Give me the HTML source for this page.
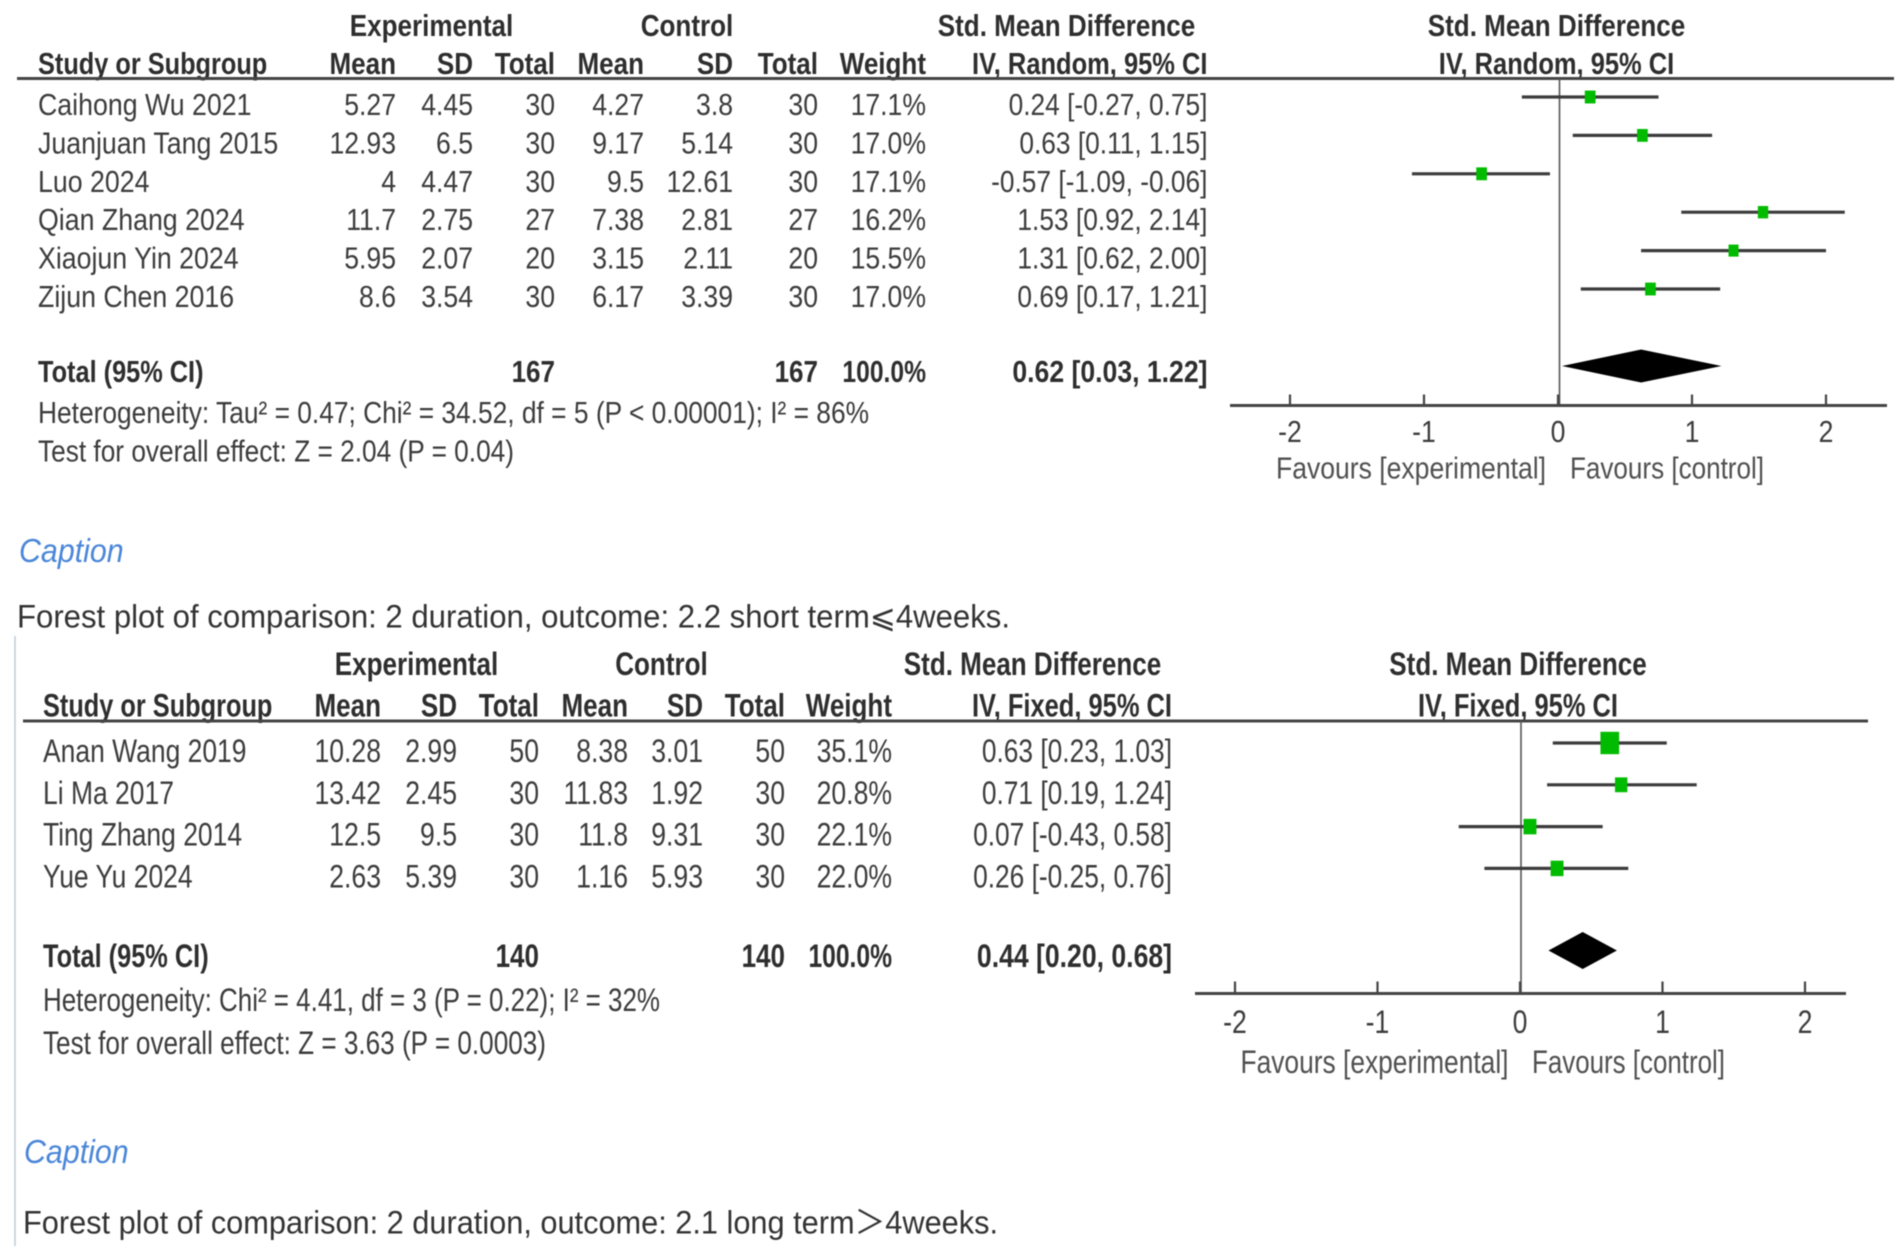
<!DOCTYPE html>
<html lang="en">
<head>
<meta charset="utf-8">
<title>Forest plots of comparison: duration</title>
<style>
  html, body { margin: 0; padding: 0; background: #fff; }
  #stage { display: block; width: 1902px; height: 1256px; filter: blur(0.6px); }
  text { font-family: "Liberation Sans", "DejaVu Sans", "Noto Sans CJK SC", sans-serif; }
</style>
</head>
<body>
<svg id="stage" xmlns="http://www.w3.org/2000/svg" width="1902" height="1256" viewBox="0 0 1902 1256"></svg>
<script>
// ---------- Panel 1 data: short term ----------
const studies1 = ['Caihong Wu 2021', 'Juanjuan Tang 2015', 'Luo 2024', 'Qian Zhang 2024', 'Xiaojun Yin 2024', 'Zijun Chen 2016'];
const expMean1 = [5.27, 12.93, 4, 11.7, 5.95, 8.6];
const expSd1 = [4.45, 6.5, 4.47, 2.75, 2.07, 3.54];
const expTotal1 = [30, 30, 30, 27, 20, 30];
const ctlMean1 = [4.27, 9.17, 9.5, 7.38, 3.15, 6.17];
const ctlSd1 = [3.8, 5.14, 12.61, 2.81, 2.11, 3.39];
const ctlTotal1 = [30, 30, 30, 27, 20, 30];
const weight1 = [17.1, 17.0, 17.1, 16.2, 15.5, 17.0];
const smd1 = [0.24, 0.63, -0.57, 1.53, 1.31, 0.69];
const ciLow1 = [-0.27, 0.11, -1.09, 0.92, 0.62, 0.17];
const ciHigh1 = [0.75, 1.15, -0.06, 2.14, 2.00, 1.21];
const pooled1 = [0.62, 0.03, 1.22];
const totals1 = [167, 167];

// ---------- Panel 2 data: long term ----------
const studies2 = ['Anan Wang 2019', 'Li Ma 2017', 'Ting Zhang 2014', 'Yue Yu 2024'];
const expMean2 = [10.28, 13.42, 12.5, 2.63];
const expSd2 = [2.99, 2.45, 9.5, 5.39];
const expTotal2 = [50, 30, 30, 30];
const ctlMean2 = [8.38, 11.83, 11.8, 1.16];
const ctlSd2 = [3.01, 1.92, 9.31, 5.93];
const ctlTotal2 = [50, 30, 30, 30];
const weight2 = [35.1, 20.8, 22.1, 22.0];
const smd2 = [0.63, 0.71, 0.07, 0.26];
const ciLow2 = [0.23, 0.19, -0.43, -0.25];
const ciHigh2 = [1.03, 1.24, 0.58, 0.76];
const pooled2 = [0.44, 0.20, 0.68];
const totals2 = [140, 140];

const axisTicks = [-2, -1, 0, 1, 2];

const svg = document.getElementById('stage');
const NS = 'http://www.w3.org/2000/svg';

function mk(tag, name, attrs, parent) {
  const el = document.createElementNS(NS, tag);
  
  
  for (const k in attrs) el.setAttribute(k, attrs[k]);
  (parent || svg).appendChild(el);
  return el;
}

function label(parent, name, x, y, str, o) {
  o = o || {};
  const sx = o.len ? 1 : (o.sx || (o.bold ? 0.93 : 0.95));
  const sy = o.sy || 1;
  const attrs = {
    transform: 'translate(' + x + ',' + y + ') scale(' + sx + ',' + sy + ')',
    'font-size': o.size || 28,
    fill: o.fill || (o.bold ? '#2e2e2e' : '#3c3c3c'),
    'text-anchor': o.anchor || 'start'
  };
  if (o.bold) attrs['font-weight'] = 'bold';
  if (o.italic) attrs['font-style'] = 'italic';
  if (o.len) { attrs.textLength = o.len; attrs.lengthAdjust = 'spacingAndGlyphs'; }
  const el = mk('text', name, attrs, parent);
  el.textContent = str;
  return el;
}

function drawPanel(d, L) {
  const g = mk('g', L.name, {});
  const xScale = v => L.zeroX + v * L.unit;
  const rowY = i => L.firstRowY + i * L.rowStep;
  const textOpts = (extra) => Object.assign({ sy: L.sy }, extra);
  const bl = 10 * L.sy - 1;

  // Headers
  const h = (name, x, y, s, anchor, sx) => label(g, name, x, y + bl, s, textOpts({ bold: true, anchor: anchor, sx: sx }));
  h('experimental-header', L.cols.expCenter, L.head1Y, 'Experimental', 'middle');
  h('control-header', L.cols.ctlCenter, L.head1Y, 'Control', 'middle');
  h('effect-column-header', L.cols.effCenter, L.head1Y, 'Std. Mean Difference', 'middle');
  h('plot-header', L.cols.plotCenter, L.head1Y, 'Std. Mean Difference', 'middle');
  h('study-column-header', L.textX, L.head2Y, 'Study or Subgroup', 'start', 0.905);
  h('exp-mean-header', L.cols.expMean, L.head2Y, 'Mean', 'end');
  h('exp-sd-header', L.cols.expSd, L.head2Y, 'SD', 'end');
  h('exp-total-header', L.cols.expTotal, L.head2Y, 'Total', 'end');
  h('ctl-mean-header', L.cols.ctlMean, L.head2Y, 'Mean', 'end');
  h('ctl-sd-header', L.cols.ctlSd, L.head2Y, 'SD', 'end');
  h('ctl-total-header', L.cols.ctlTotal, L.head2Y, 'Total', 'end');
  h('weight-header', L.cols.weight, L.head2Y, 'Weight', 'end');
  h('effect-method-header', L.cols.ci, L.head2Y, L.method, 'end', 0.91);
  h('plot-method-header', L.cols.plotCenter, L.head2Y, L.method, 'middle', 0.91);

  mk('line', 'header-rule', { x1: L.ruleX1, x2: L.ruleX2, y1: L.ruleY, y2: L.ruleY, stroke: '#444', 'stroke-width': 3 }, g);

  // Table rows
  d.studies.forEach((s, i) => {
    const y = rowY(i) + bl;
    const c = L.cols;
    const row = mk('g', 'study-row', {}, g);
    label(row, 'study-name', L.textX, y, s, textOpts({ sx: L.nameSx }));
    label(row, 'exp-mean', c.expMean, y, String(d.expMean[i]), textOpts({ anchor: 'end' }));
    label(row, 'exp-sd', c.expSd, y, String(d.expSd[i]), textOpts({ anchor: 'end' }));
    label(row, 'exp-total', c.expTotal, y, String(d.expTotal[i]), textOpts({ anchor: 'end' }));
    label(row, 'ctl-mean', c.ctlMean, y, String(d.ctlMean[i]), textOpts({ anchor: 'end' }));
    label(row, 'ctl-sd', c.ctlSd, y, String(d.ctlSd[i]), textOpts({ anchor: 'end' }));
    label(row, 'ctl-total', c.ctlTotal, y, String(d.ctlTotal[i]), textOpts({ anchor: 'end' }));
    label(row, 'weight-value', c.weight, y, d.weight[i].toFixed(1) + '%', textOpts({ anchor: 'end' }));
    label(row, 'effect-value', c.ci, y, d.smd[i].toFixed(2) + ' [' + d.lo[i].toFixed(2) + ', ' + d.hi[i].toFixed(2) + ']', textOpts({ anchor: 'end', sx: 0.94 }));
  });

  // Totals
  const ty = L.totalY + bl;
  label(g, 'total-label', L.textX, ty, 'Total (95% CI)', textOpts({ bold: true, sx: 0.905 }));
  label(g, 'exp-grand-total', L.cols.expTotal, ty, String(d.totals[0]), textOpts({ bold: true, anchor: 'end' }));
  label(g, 'ctl-grand-total', L.cols.ctlTotal, ty, String(d.totals[1]), textOpts({ bold: true, anchor: 'end' }));
  label(g, 'total-weight', L.cols.weight, ty, '100.0%', textOpts({ bold: true, anchor: 'end', sx: 0.88 }));
  label(g, 'pooled-effect', L.cols.ci, ty, d.pooled[0].toFixed(2) + ' [' + d.pooled[1].toFixed(2) + ', ' + d.pooled[2].toFixed(2) + ']', textOpts({ bold: true, anchor: 'end', sx: 0.95 }));
  label(g, 'heterogeneity-note', L.textX, L.hetY + bl, L.hetText, textOpts({ len: L.hetLen }));
  label(g, 'overall-effect-note', L.textX, L.testY + bl, L.testText, textOpts({ len: L.testLen }));

  // Reference line
  mk('line', 'zero-line', { x1: xScale(0) + L.zeroLineShift, x2: xScale(0) + L.zeroLineShift, y1: L.ruleY, y2: L.axisY, stroke: '#555', 'stroke-width': 1.6 }, g);

  // Study marks
  d.smd.forEach((v, i) => {
    const y = rowY(i) - L.markUp;
    mk('line', 'ci-line', { x1: xScale(d.lo[i]), x2: xScale(d.hi[i]), y1: y, y2: y, stroke: '#3c3c3c', 'stroke-width': 3.2 }, g);
    const w = 0.44 * d.weight[i] + 3.2;
    const ht = w * 1.2;
    mk('rect', 'effect-square', { x: xScale(v) - w / 2, y: y - ht / 2, width: w, height: ht, fill: '#00bb00' }, g);
  });

  // Pooled diamond
  const dy = L.diamondY, dh = L.diamondH;
  mk('polygon', 'pooled-diamond', {
    points: [[xScale(d.pooled[1]), dy], [xScale(d.pooled[0]), dy - dh], [xScale(d.pooled[2]), dy], [xScale(d.pooled[0]), dy + dh]].map(p => p.join(',')).join(' '),
    fill: '#000'
  }, g);

  // Axis
  mk('line', 'x-axis', { x1: L.axisX1, x2: L.axisX2, y1: L.axisY, y2: L.axisY, stroke: '#444', 'stroke-width': 3 }, g);
  axisTicks.forEach(t => {
    mk('line', 'x-axis-tick', { x1: xScale(t), x2: xScale(t), y1: L.axisY - L.tickLen, y2: L.axisY, stroke: '#444', 'stroke-width': 2.2 }, g);
    label(g, 'x-axis-tick-label', xScale(t), L.tickLabelY + bl, String(t), textOpts({ anchor: 'middle' }));
  });
  label(g, 'favours-experimental', L.favExpX, L.favY + bl, 'Favours [experimental]', textOpts({ len: L.favExpLen, fill: '#505050' }));
  label(g, 'favours-control', L.favCtlX, L.favY + bl, 'Favours [control]', textOpts({ len: L.favCtlLen, fill: '#505050' }));
}

drawPanel(
  { studies: studies1, expMean: expMean1, expSd: expSd1, expTotal: expTotal1, ctlMean: ctlMean1, ctlSd: ctlSd1, ctlTotal: ctlTotal1, weight: weight1, smd: smd1, lo: ciLow1, hi: ciHigh1, pooled: pooled1, totals: totals1 },
  {
    name: 'forest-plot-short-term', method: 'IV, Random, 95% CI', sy: 1.08, nameSx: 0.955,
    textX: 38, head1Y: 26, head2Y: 64, ruleY: 78.5, ruleX1: 17, ruleX2: 1894,
    firstRowY: 105.2, rowStep: 38.4, totalY: 372, hetY: 413, testY: 451.5,
    hetText: 'Heterogeneity: Tau² = 0.47; Chi² = 34.52, df = 5 (P < 0.00001); I² = 86%', hetLen: 831,
    testText: 'Test for overall effect: Z = 2.04 (P = 0.04)', testLen: 476,
    cols: { expCenter: 431.5, ctlCenter: 687, effCenter: 1066.5, plotCenter: 1556.5, expMean: 396, expSd: 473, expTotal: 555, ctlMean: 644, ctlSd: 733, ctlTotal: 818, weight: 926, ci: 1207.5 },
    zeroX: 1558, unit: 134, zeroLineShift: 1.5, markUp: 8.2, diamondY: 366, diamondH: 16.5,
    axisY: 405.5, axisX1: 1230, axisX2: 1887, tickLen: 11, tickLabelY: 432,
    favY: 468.5, favExpX: 1276, favExpLen: 270, favCtlX: 1570, favCtlLen: 194
  }
);

drawPanel(
  { studies: studies2, expMean: expMean2, expSd: expSd2, expTotal: expTotal2, ctlMean: ctlMean2, ctlSd: ctlSd2, ctlTotal: ctlTotal2, weight: weight2, smd: smd2, lo: ciLow2, hi: ciHigh2, pooled: pooled2, totals: totals2 },
  {
    name: 'forest-plot-long-term', method: 'IV, Fixed, 95% CI', sy: 1.15, nameSx: 0.945,
    textX: 43, head1Y: 664.5, head2Y: 706, ruleY: 721, ruleX1: 23, ruleX2: 1868,
    firstRowY: 751.5, rowStep: 41.8, totalY: 956.5, hetY: 1000.5, testY: 1043.5,
    hetText: 'Heterogeneity: Chi² = 4.41, df = 3 (P = 0.22); I² = 32%', hetLen: 617,
    testText: 'Test for overall effect: Z = 3.63 (P = 0.0003)', testLen: 503,
    cols: { expCenter: 416.5, ctlCenter: 661.5, effCenter: 1032.5, plotCenter: 1518, expMean: 381, expSd: 457, expTotal: 539, ctlMean: 628, ctlSd: 703, ctlTotal: 785, weight: 892, ci: 1172 },
    zeroX: 1520, unit: 142.5, zeroLineShift: 1, markUp: 8.5, diamondY: 950.5, diamondH: 18.5,
    axisY: 993.5, axisX1: 1195, axisX2: 1846, tickLen: 12, tickLabelY: 1022.5,
    favY: 1062.5, favExpX: 1240.5, favExpLen: 268, favCtlX: 1532, favCtlLen: 193
  }
);

// Captions
label(svg, 'caption-label-short-term', 19, 562, 'Caption', { italic: true, size: 31, sx: 0.98, sy: 1.08, fill: '#4a86d8' });
label(svg, 'caption-text-short-term', 17, 627.5, 'Forest plot of comparison: 2 duration, outcome: 2.2 short term⩽4weeks.', { size: 31, sy: 1.05, len: 993, fill: '#333' });
mk('line', 'left-margin-rule', { x1: 15, x2: 15, y1: 636, y2: 1246, stroke: '#c0ceda', 'stroke-width': 1.6 });
label(svg, 'caption-label-long-term', 24, 1163, 'Caption', { italic: true, size: 31, sx: 0.98, sy: 1.08, fill: '#4a86d8' });
label(svg, 'caption-text-long-term', 23, 1233.5, 'Forest plot of comparison: 2 duration, outcome: 2.1 long term＞4weeks.', { size: 31, sy: 1.05, len: 975, fill: '#333' });
</script>
</body>
</html>
